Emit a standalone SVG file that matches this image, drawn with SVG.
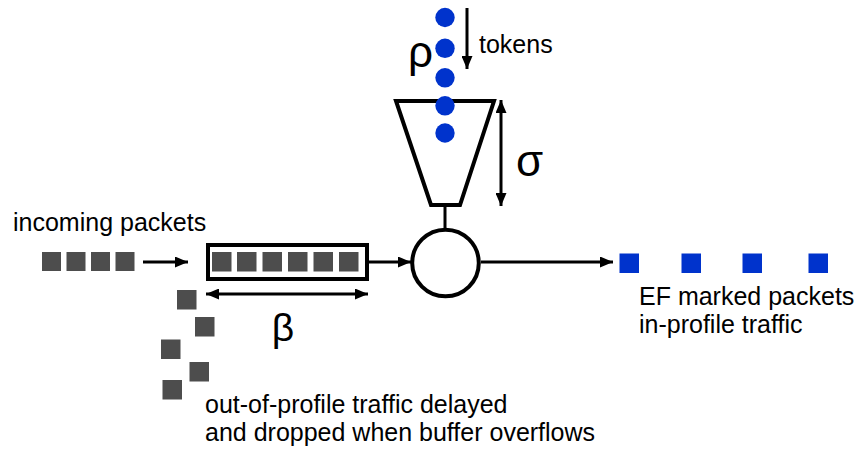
<svg xmlns="http://www.w3.org/2000/svg" width="861" height="453" viewBox="0 0 861 453">
<style>
.t{font-family:"Liberation Sans",Arial,sans-serif;font-size:25px;fill:#000}
.g{font-family:"Liberation Sans",Arial,sans-serif;fill:#000}
.pk{fill:#4d4d4d}
.ef{fill:#0033cc}
.tok{fill:#0033cc}
.ln{stroke:#000;stroke-width:3;fill:none}
.sh{stroke:#000;stroke-width:4;fill:#fff}
</style>
<defs>
<marker id="ah" markerUnits="userSpaceOnUse" markerWidth="13" markerHeight="11" refX="13" refY="5.5" orient="auto-start-reverse">
<path d="M0,0 L13,5.5 L0,11 z" fill="#000"/>
</marker>
</defs>
<g id="incoming">
<text class="t" x="13" y="231">incoming packets</text>
<rect class="pk" x="42" y="252" width="19" height="19"/>
<rect class="pk" x="66.5" y="252" width="19" height="19"/>
<rect class="pk" x="91" y="252" width="19" height="19"/>
<rect class="pk" x="115.5" y="252" width="19" height="19"/>
</g>
<g id="buffer">
<rect class="sh" x="208" y="245" width="159" height="34"/>
<rect class="pk" x="212" y="252" width="19.5" height="19.5"/>
<rect class="pk" x="237" y="252" width="19.5" height="19.5"/>
<rect class="pk" x="262.5" y="252" width="19.5" height="19.5"/>
<rect class="pk" x="288" y="252" width="19.5" height="19.5"/>
<rect class="pk" x="313.5" y="252" width="19.5" height="19.5"/>
<rect class="pk" x="339" y="252" width="19.5" height="19.5"/>
<text class="g" x="283" y="341" font-size="39" text-anchor="middle">β</text>
</g>
<g id="dropped">
<rect class="pk" x="177" y="290" width="19.5" height="19.5"/>
<rect class="pk" x="195" y="317" width="19.5" height="19.5"/>
<rect class="pk" x="161" y="339.5" width="19.5" height="19.5"/>
<rect class="pk" x="189.5" y="362" width="19.5" height="19.5"/>
<rect class="pk" x="162.5" y="380" width="19.5" height="19.5"/>
<text class="t" x="205" y="413">out-of-profile traffic delayed</text>
<text class="t" x="205" y="441">and dropped when buffer overflows</text>
</g>
<g id="bucket">
<polygon class="sh" points="396,101 494,101 460,205 431,205" fill="#fff"/>
<line class="ln" x1="445" y1="205" x2="445" y2="230" stroke-width="4"/>
<text class="g" x="516" y="176" font-size="44">σ</text>
</g>
<g id="tokens">
<circle class="tok" cx="445" cy="17.5" r="9.7"/>
<circle class="tok" cx="445" cy="48.3" r="9.7"/>
<circle class="tok" cx="445" cy="77.8" r="9.7"/>
<circle class="tok" cx="445" cy="105.8" r="9.7"/>
<circle class="tok" cx="445" cy="133" r="9.7"/>
<text class="g" x="408" y="67" font-size="44">ρ</text>
<text class="t" x="479" y="53">tokens</text>
</g>
<g id="shaper">
<circle class="sh" cx="445.5" cy="263" r="33.3"/>
</g>
<g id="output">
<rect class="ef" x="619.5" y="253.5" width="19.5" height="19.5"/>
<rect class="ef" x="681.5" y="253.5" width="19.5" height="19.5"/>
<rect class="ef" x="742.5" y="253.5" width="19.5" height="19.5"/>
<rect class="ef" x="808.5" y="253.5" width="19.5" height="19.5"/>
<text class="t" x="639" y="305">EF marked packets</text>
<text class="t" x="639" y="333">in-profile traffic</text>
</g>
<g id="connectors">
<line class="ln" x1="143" y1="262" x2="188" y2="262" marker-end="url(#ah)"/>
<line class="ln" x1="369" y1="262" x2="411" y2="262" marker-end="url(#ah)"/>
<line class="ln" x1="481" y1="262" x2="613" y2="262" marker-end="url(#ah)"/>
<line class="ln" x1="206" y1="294" x2="368" y2="294" marker-start="url(#ah)" marker-end="url(#ah)"/>
<line class="ln" x1="501" y1="100" x2="501" y2="206" marker-start="url(#ah)" marker-end="url(#ah)"/>
<line class="ln" x1="467" y1="8" x2="467" y2="69" marker-end="url(#ah)"/>
</g>
</svg>
